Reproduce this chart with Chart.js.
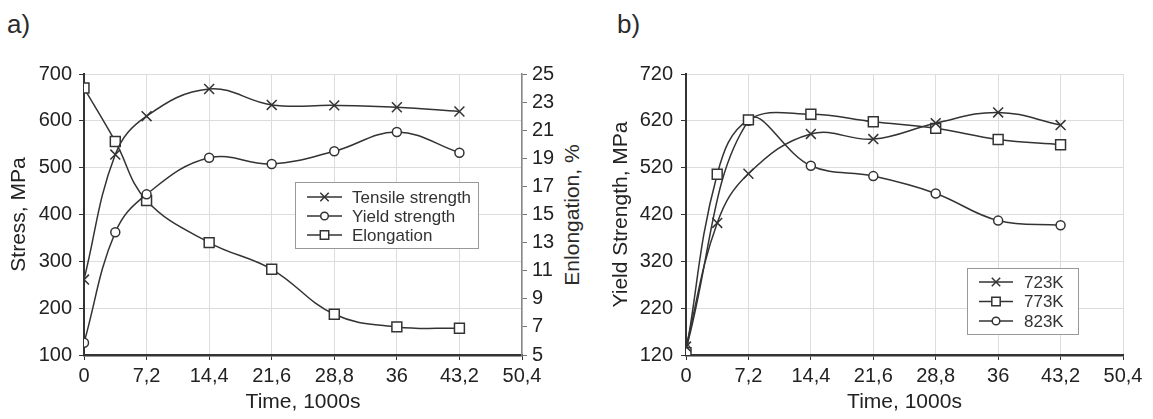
<!DOCTYPE html>
<html>
<head>
<meta charset="utf-8">
<script src="https://cdn.jsdelivr.net/npm/chart.js@4"></script>
<style>
  body { margin: 0; background: #fff; width: 1153px; height: 419px; position: relative; overflow: hidden;
         font-family: "Liberation Sans", Arial, sans-serif; color: #2b2b2b; }
  canvas { position: absolute; top: 0; }
  .panel { position: absolute; top: 11px; font-size: 26px; line-height: 26px; }
  .rtitle { position: absolute; font-size: 21px; white-space: nowrap; transform: translate(-50%, -50%) rotate(-90deg); }
</style>
</head>
<body>
<div class="panel" style="left:7px">a)</div>
<div class="panel" style="left:617px">b)</div>
<div class="rtitle" style="left:572px; top:215px">Enlongation, %</div>
<canvas id="chartA" width="578" height="419" style="left:0"></canvas>
<canvas id="chartB" width="575" height="419" style="left:578px"></canvas>
<script>
// time, 1000s
const timePoints = [0, 3.6, 7.2, 14.4, 21.6, 28.8, 36, 43.2];
const timeTicks = [0, 7.2, 14.4, 21.6, 28.8, 36, 43.2, 50.4];

// panel a
const tensileStrength = [261, 528, 610, 668, 634, 633, 629, 620];
const yieldStrength = [126, 362, 443, 521, 508, 535, 576, 532];
const elongation = [24, 20.2, 16, 13, 11.1, 7.9, 7.0, 6.9];
const stressTicks = [100, 200, 300, 400, 500, 600, 700];
const elongationTicks = [5, 7, 9, 11, 13, 15, 17, 19, 21, 23, 25];

// panel b
const ys723K = [138, 402, 507, 592, 581, 615, 638, 611];
const ys773K = [125, 506, 622, 634, 618, 604, 580, 569];
const ys823K = [132, null, 620, 524, 502, 465, 407, 397];
const yieldTicks = [120, 220, 320, 420, 520, 620, 720];

const INK = '#333';
const FONT = '"Liberation Sans", Arial, sans-serif';
const toXY = arr => arr.map((v, i) => ({ x: timePoints[i], y: v }));
const fmt = v => Number.isInteger(v) ? String(v) : v.toFixed(1).replace('.', ',');

function series(label, data, style, radius, axis) {
    return {
        label, data: toXY(data), yAxisID: axis || 'y',
        borderColor: INK, borderWidth: 1.5, tension: 0.4, spanGaps: true,
        pointStyle: style, pointRadius: radius, pointHoverRadius: radius,
        pointBorderColor: INK, pointBackgroundColor: '#fff', pointBorderWidth: 1.5
    };
}

// legend box drawn inside the plot
const boxLegend = {
    id: 'boxLegend',
    afterDatasetsDraw(chart, args, opts) {
        const ctx = chart.ctx;
        ctx.save();
        ctx.fillStyle = '#fff';
        ctx.strokeStyle = '#999';
        ctx.lineWidth = 1;
        ctx.fillRect(opts.x, opts.y, opts.w, opts.h);
        ctx.strokeRect(opts.x + 0.5, opts.y + 0.5, opts.w, opts.h);
        chart.data.datasets.forEach((ds, i) => {
            const y = opts.y + opts.first + i * opts.step;
            const x0 = opts.x + opts.lineX;
            ctx.strokeStyle = INK;
            ctx.lineWidth = 1.5;
            ctx.beginPath();
            ctx.moveTo(x0, y);
            ctx.lineTo(x0 + opts.lineW, y);
            ctx.stroke();
            ctx.fillStyle = '#fff';
            Chart.helpers.drawPoint(ctx, { pointStyle: ds.pointStyle, radius: ds.pointRadius * 0.85, rotation: 0, borderWidth: 1.5 }, x0 + opts.lineW / 2, y);
            ctx.fillStyle = INK;
            ctx.font = '17px ' + FONT;
            ctx.textBaseline = 'middle';
            ctx.fillText(ds.label, opts.x + opts.textX, y + 1);
        });
        ctx.restore();
    }
};

function xScale() {
    return {
        type: 'linear', min: 0, max: 50.4,
        afterBuildTicks: s => { s.ticks = timeTicks.map(v => ({ value: v })); },
        afterFit: s => { s.height = 64; },
        ticks: { callback: v => fmt(v), color: '#222', font: { family: FONT, size: 20 }, padding: 4, maxRotation: 0, autoSkip: false },
        grid: { color: '#dcdcdc', tickColor: INK, tickLength: 5 },
        border: { color: INK, width: 2.5 },
        title: { display: true, text: 'Time, 1000s', color: '#222', font: { family: FONT, size: 21 }, padding: { top: 0, bottom: 4 } }
    };
}

new Chart(document.getElementById('chartA'), {
    type: 'line',
    data: {
        datasets: [
            series('Tensile strength', tensileStrength, 'crossRot', 7),
            series('Yield strength', yieldStrength, 'circle', 4.5),
            series('Elongation', elongation, 'rect', 7, 'y1')
        ]
    },
    options: {
        responsive: false, animation: false,
        layout: { padding: { top: 74, left: 0, right: 0, bottom: 0 } },
        plugins: {
            legend: { display: false }, tooltip: { enabled: false },
            boxLegend: { x: 295, y: 182, w: 183, h: 66, first: 15, step: 19, lineX: 12, lineW: 35, textX: 57 }
        },
        scales: {
            x: xScale(),
            y: {
                position: 'left', min: 100, max: 700,
                afterBuildTicks: s => { s.ticks = stressTicks.map(v => ({ value: v })); },
                afterFit: s => { s.width = 84; },
                ticks: { color: '#222', font: { family: FONT, size: 20 }, padding: 7 },
                grid: { color: '#dcdcdc', tickColor: INK, tickLength: 5 },
                border: { color: INK, width: 2 },
                title: { display: true, text: 'Stress, MPa', color: '#222', font: { family: FONT, size: 21 }, padding: { top: 7, bottom: 0 } }
            },
            y1: {
                position: 'right', min: 5, max: 25,
                afterBuildTicks: s => { s.ticks = elongationTicks.map(v => ({ value: v })); },
                afterFit: s => { s.width = 56; },
                ticks: { color: '#222', font: { family: FONT, size: 20 }, padding: 5 },
                grid: { drawOnChartArea: false, tickColor: '#777', tickLength: 5 },
                border: { color: '#888', width: 1.5 }
            }
        }
    },
    plugins: [boxLegend]
});

new Chart(document.getElementById('chartB'), {
    type: 'line',
    data: {
        datasets: [
            series('723K', ys723K, 'crossRot', 7),
            series('773K', ys773K, 'rect', 7),
            series('823K', ys823K, 'circle', 4.5)
        ]
    },
    options: {
        responsive: false, animation: false,
        layout: { padding: { top: 74, left: 0, right: 30, bottom: 0 } },
        plugins: {
            legend: { display: false }, tooltip: { enabled: false },
            boxLegend: { x: 389, y: 268, w: 111, h: 66, first: 14, step: 19.5, lineX: 12, lineW: 34, textX: 57 }
        },
        scales: {
            x: xScale(),
            y: {
                position: 'left', min: 120, max: 720,
                afterBuildTicks: s => { s.ticks = yieldTicks.map(v => ({ value: v })); },
                afterFit: s => { s.width = 108; },
                ticks: { color: '#222', font: { family: FONT, size: 20 }, padding: 8 },
                grid: { color: '#dcdcdc', tickColor: INK, tickLength: 5 },
                border: { color: INK, width: 2 },
                title: { display: true, text: 'Yield Strength, MPa', color: '#222', font: { family: FONT, size: 21 }, padding: { top: 31, bottom: 0 } }
            }
        }
    },
    plugins: [boxLegend]
});
</script>
</body>
</html>
